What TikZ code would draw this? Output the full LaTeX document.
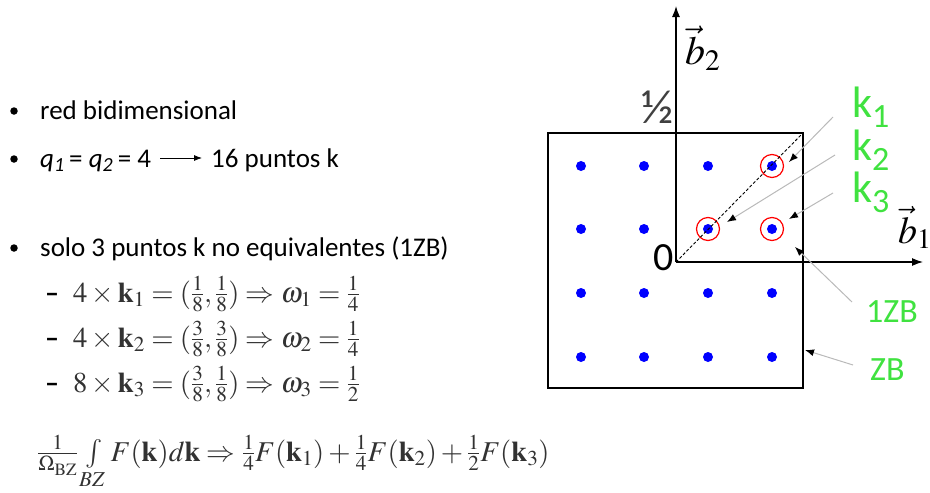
\documentclass[tikz,border=0pt]{standalone}
\usepackage{mathptmx}
\usepackage[no-math]{fontspec}
\setmainfont{Carlito}
\usetikzlibrary{arrows.meta}
\definecolor{lblgreen}{RGB}{64,226,64}
\definecolor{mathgray}{RGB}{50,50,50}
\definecolor{ptrgray}{RGB}{185,185,185}
\begin{document}
\begin{tikzpicture}[x=1pt,y=-1pt,
  txt/.style={anchor=base west,inner sep=0pt,font=\fontsize{27}{30}\selectfont},
  mth/.style={anchor=base west,inner sep=0pt,text=mathgray,font=\fontsize{28.7}{32}\selectfont},
  bul/.style={circle,fill=black,inner sep=0pt,minimum size=7.5pt},
  dot/.style={circle,fill=blue,inner sep=0pt,minimum size=10pt},
  ring/.style={circle,draw=red,line width=1.2pt,inner sep=0pt,minimum size=23pt},
  axis/.style={line width=1.2pt,-{Latex[length=11pt,width=8pt]}},
  ptr/.style={draw=ptrgray,line width=1pt,-{Latex[length=9pt,width=7pt,black]}},
  grn/.style={anchor=base west,inner sep=0pt,text=lblgreen},
]
\useasboundingbox (0,0) rectangle (930,493);
% ---------- left text ----------
\node[bul] (b1) at (14,111) {};
\node[txt] (t1) at (40,119) {red bidimensional};
\node[bul] (b2) at (14,159) {};
\node[txt] (t2) at (40,167) {\textit{q\textsubscript{1}}\,= \textit{q\textsubscript{2}}\,= 4};
\coordinate (a1) at (160,158);
\coordinate (a2) at (202,158);
\draw[line width=0.8pt,-{Latex[length=8pt,width=6pt]}] (a1) -- (a2);
\node[txt] (t3) at (211,167) {16 puntos k};
\node[bul] (b3) at (14,248) {};
\node[txt] (t4) at (40,256) {solo 3 puntos k no equivalentes (1ZB)};
\node[txt,font=\fontsize{28}{30}\selectfont\bfseries] (d1) at (45,302) {–};
\node[mth] (m1) at (73,302) {$4\times\mathbf{k}_1=(\frac18,\frac18)\Rightarrow\omega_1=\frac14$};
\node[txt,font=\fontsize{28}{30}\selectfont\bfseries] (d2) at (45,347) {–};
\node[mth] (m2) at (73,347) {$4\times\mathbf{k}_2=(\frac38,\frac38)\Rightarrow\omega_2=\frac14$};
\node[txt,font=\fontsize{28}{30}\selectfont\bfseries] (d3) at (45,392) {–};
\node[mth] (m3) at (73,392) {$8\times\mathbf{k}_3=(\frac38,\frac18)\Rightarrow\omega_3=\frac12$};
\node[mth] (f) at (37,461)
  {$\frac{1}{\Omega_{\mathrm{BZ}}}\int\limits_{BZ}F(\mathbf{k})d\mathbf{k}\Rightarrow\frac14F(\mathbf{k}_1)+\frac14F(\mathbf{k}_2)+\frac12F(\mathbf{k}_3)$};
% ---------- right diagram ----------
\node[draw,line width=1.2pt,inner sep=0pt,minimum width=255pt,minimum height=255pt] (zb) at (675.5,260.5) {};
\coordinate (O) at (676,262);
\coordinate (ytip) at (676,6);
\coordinate (xtip) at (923,262);
\draw[axis] (O) -- (ytip);
\draw[axis] (O) -- (xtip);
\foreach \i/\x in {1/581,2/644,3/708,4/772}
  \foreach \j/\y in {1/166,2/229,3/293,4/357}
    \node[dot] (p\i\j) at (\x,\y) {};
\node[ring] (r1) at (p41) {};
\node[ring] (r2) at (p32) {};
\node[ring] (r3) at (p42) {};
\draw[line width=0.9pt,dash pattern=on 3pt off 2pt] (O) -- (zb.north east);
% labels
\node[anchor=base west,inner sep=0pt,font=\fontsize{40}{44}\selectfont] (lb2) at (685,64) {$\vec{b}_2$};
\node[anchor=base west,inner sep=0pt,font=\fontsize{38}{44}\selectfont] (lb1) at (898,243) {$\vec{b}_1$};
\node[anchor=base east,inner sep=0pt,font=\fontsize{48}{52}\selectfont,text=black!75] (half) at (674,123) {½};
\node[anchor=base east,inner sep=0pt,font=\fontsize{40}{44}\selectfont] (zero) at (674,270) {0};
\node[grn,font=\fontsize{44}{46}\selectfont] (k1) at (852,117) {k\raisebox{-10pt}{\fontsize{34}{34}\selectfont 1}};
\node[grn,font=\fontsize{44}{46}\selectfont] (k2) at (852,160) {k\raisebox{-10pt}{\fontsize{34}{34}\selectfont 2}};
\node[grn,font=\fontsize{44}{46}\selectfont] (k3) at (852,202) {k\raisebox{-10pt}{\fontsize{34}{34}\selectfont 3}};
\node[grn,font=\fontsize{34}{36}\selectfont] (l1zb) at (866,322) {1ZB};
\node[grn,font=\fontsize{34}{36}\selectfont] (lzb) at (870,380) {ZB};
% pointers
\coordinate (s1) at (833,117); \coordinate (e1) at (789,162);
\coordinate (s2) at (835,155); \coordinate (e2) at (727,222);
\coordinate (s3) at (833,193); \coordinate (e3) at (789,219);
\coordinate (s4) at (852,302); \coordinate (e4) at (795,247);
\coordinate (s5) at (853,365); \coordinate (e5) at (805,350);
\draw[ptr] (s1) -- (e1);
\draw[ptr] (s2) -- (e2);
\draw[ptr] (s3) -- (e3);
\draw[ptr] (s4) -- (e4);
\draw[ptr] (s5) -- (e5);
\end{tikzpicture}
\end{document}
